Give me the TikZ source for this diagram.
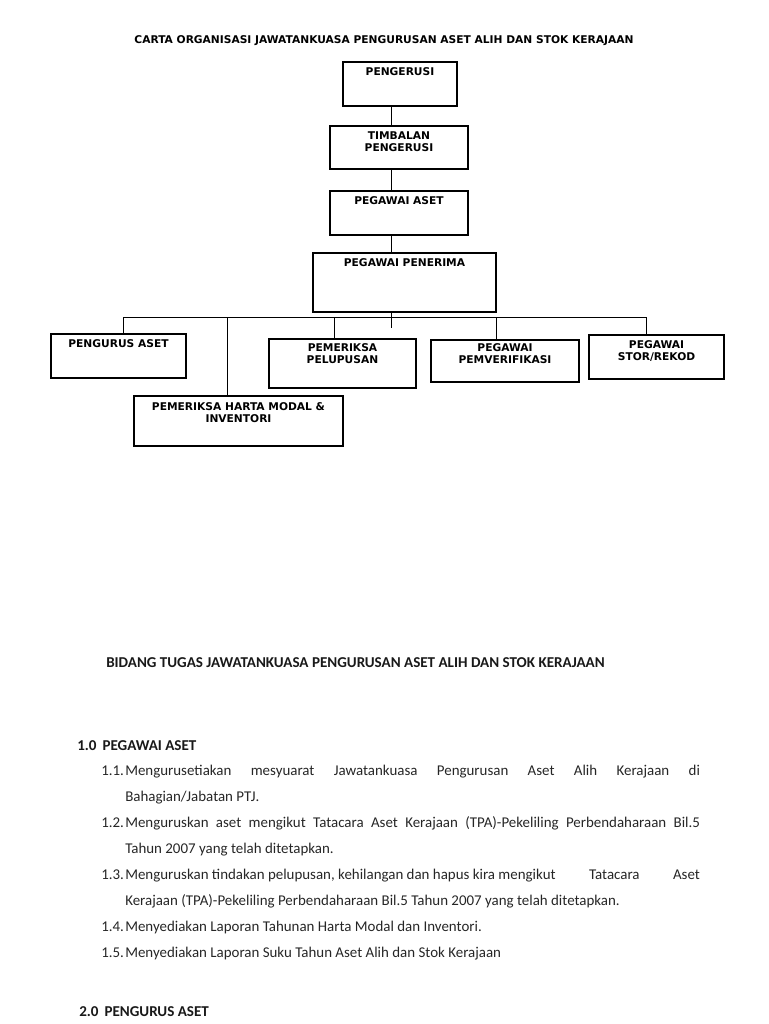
\documentclass[tikz,border=0pt]{standalone}
\usepackage{fontspec}
\setmainfont{DejaVu Sans}
\newfontfamily\carlito{Carlito}
\usetikzlibrary{fit}
\tikzset{
  orgbox/.style={draw=black, line width=0.9pt, inner sep=0pt, rectangle},
  orglbl/.style={anchor=north, inner sep=0pt, yshift=-4.2pt, align=center,
    font=\fontsize{8}{9}\selectfont\bfseries},
  conn/.style={draw=black, line width=0.75pt},
  doctext/.style={anchor=base west, inner sep=0pt, text=black!85,
    font=\carlito\fontsize{11.2}{13}\selectfont},
  dochead/.style={doctext, text=black!90, font=\carlito\bfseries\fontsize{11.3}{13}\selectfont},
}
\begin{document}
\begin{tikzpicture}[x=0.75pt,y=-0.75pt]
\useasboundingbox (0,0) rectangle (768,1024);
% title
\node[inner sep=0pt, font=\fontsize{8}{9}\selectfont\bfseries] (title) at (384,41) {CARTA ORGANISASI JAWATANKUASA PENGURUSAN ASET ALIH DAN STOK KERAJAAN};
% boxes
\node[orgbox, fit={(343,62) (457,106)}, label={[orglbl]north:PENGERUSI}] (pengerusi) {};
\node[orgbox, fit={(330,126) (468,169)}, label={[orglbl]north:TIMBALAN\\PENGERUSI}] (timbalan) {};
\node[orgbox, fit={(330,191) (468,235)}, label={[orglbl]north:PEGAWAI ASET}] (pegaset) {};
\node[orgbox, fit={(313,253) (496,312)}, label={[orglbl]north:PEGAWAI PENERIMA}] (penerima) {};
\node[orgbox, fit={(51,334) (186,378)}, label={[orglbl]north:PENGURUS ASET}] (pengurus) {};
\node[orgbox, fit={(269,339) (416,388)}, label={[orglbl,yshift=0.8pt]north:PEMERIKSA\\PELUPUSAN}] (pelupusan) {};
\node[orgbox, fit={(134,396) (343,446)}, label={[orglbl,yshift=-0.7pt]north:PEMERIKSA HARTA MODAL \&\\INVENTORI}] (harta) {};
\node[orgbox, fit={(431,340) (579,382)}, label={[orglbl,yshift=1.2pt]north:PEGAWAI\\PEMVERIFIKASI}] (verif) {};
\node[orgbox, fit={(589,335) (724,379)}, label={[orglbl]north:PEGAWAI\\STOR/REKOD}] (stor) {};
% connector helpers
\coordinate (spine) at (391,0);
\coordinate (stubend) at (391,328);
\coordinate (busL) at (123,317);
\coordinate (busR) at (646,317);
\draw[conn] (spine |- pengerusi.south) -- (spine |- timbalan.north);
\draw[conn] (spine |- timbalan.south) -- (spine |- pegaset.north);
\draw[conn] (spine |- pegaset.south) -- (spine |- penerima.north);
\draw[conn] (spine |- penerima.south) -- (stubend);
\draw[conn] (busL) -- (busR);
\draw[conn] (busL) -- (busL |- pengurus.north);
\coordinate (dHarta) at (227,317);
\draw[conn] (dHarta) -- (dHarta |- harta.north);
\coordinate (dPel) at (334,317);
\draw[conn] (dPel) -- (dPel |- pelupusan.north);
\coordinate (dVer) at (496,317);
\draw[conn] (dVer) -- (dVer |- verif.north);
\draw[conn] (busR) -- (busR |- stor.north);
% lower document text
\node[dochead] (h0) at (106,667.5) {BIDANG TUGAS JAWATANKUASA PENGURUSAN ASET ALIH DAN STOK KERAJAAN};
\node[dochead] (h1) at (77,750.5) {1.0\hspace{4.5pt}PEGAWAI ASET};
\node[doctext] (n11) at (101,775) {1.1.};
\node[doctext] (t11) at (125,775) {\hbox to 431pt{Mengurusetiakan\hfill mesyuarat\hfill Jawatankuasa\hfill Pengurusan\hfill Aset\hfill Alih\hfill Kerajaan\hfill di}};
\node[doctext] (t11b) at (125,801) {Bahagian/Jabatan PTJ.};
\node[doctext] (n12) at (101,827) {1.2.};
\node[doctext] (t12) at (125,827) {\hbox to 431pt{Menguruskan aset mengikut Tatacara Aset Kerajaan (TPA)-Pekeliling Perbendaharaan Bil.5}};
\node[doctext] (t12b) at (125,853) {Tahun 2007 yang telah ditetapkan.};
\node[doctext] (n13) at (101,879) {1.3.};
\node[doctext] (t13) at (125,879) {\hbox to 431pt{Menguruskan tindakan pelupusan, kehilangan dan hapus kira mengikut\hfill Tatacara\hfill Aset}};
\node[doctext] (t13b) at (125,905.5) {Kerajaan (TPA)-Pekeliling Perbendaharaan Bil.5 Tahun 2007 yang telah ditetapkan.};
\node[doctext] (n14) at (101,931.5) {1.4.};
\node[doctext] (t14) at (125,931.5) {Menyediakan Laporan Tahunan Harta Modal dan Inventori.};
\node[doctext] (n15) at (101,957.5) {1.5.};
\node[doctext] (t15) at (125,957.5) {Menyediakan Laporan Suku Tahun Aset Alih dan Stok Kerajaan};
\node[dochead] (h2) at (79,1016.5) {2.0\hspace{4.5pt}PENGURUS ASET};
\end{tikzpicture}
\end{document}
